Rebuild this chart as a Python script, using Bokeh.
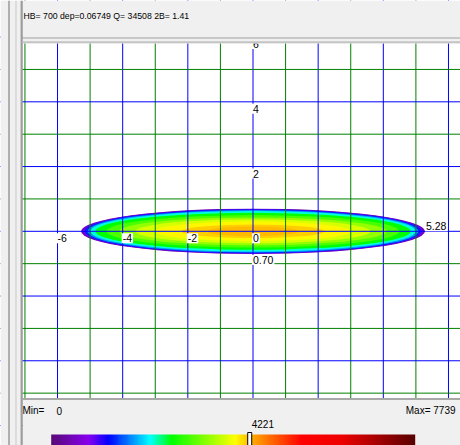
import numpy as np
from bokeh.plotting import figure
from bokeh.models import Range1d, LinearColorMapper, ColumnDataSource
from bokeh.transform import linear_cmap
from bokeh.core.properties import value
from bokeh.embed import file_html
from bokeh.resources import INLINE

# ---------------- data ----------------
header_text = "HB=  700 dep=0.06749 Q=  34508 2B=   1.41"
v_min = 0
v_max = 7739
v_peak = 4221
half_length = 5.28
half_width = 0.70

# nested contour bands of the plume: value, half-length (x), half-width (y)
level_values = [350, 900, 1300, 1750, 2150, 2550, 2950, 3350, 3700, 3950, 4120, 4221]
level_a = [5.28, 5.23, 5.16, 5.08, 4.99, 4.84, 4.50, 4.10, 3.60, 3.00, 2.20, 1.40]
level_b = [0.70, 0.69, 0.675, 0.655, 0.625, 0.57, 0.50, 0.43, 0.37, 0.30, 0.21, 0.15]

grid_x = list(range(-7, 7))
grid_y = list(range(-6, 7))
x_label_vals = [-6, -4, -2, 0]
y_label_vals = [2, 4, 6]

# ---------------- layout / style ----------------
W, H = 460, 445
X0, Y0 = 252.5, 230.8          # pixel of the data origin
SX, SY = 32.58, 32.37          # pixels per unit
CB_L, CB_W = 50.7, 364.0       # colour bar pixel start / width
FONT = value("Liberation Sans")
GRAY = "#f0f0f0"

anchors = [(0.0, "#5a0a7a"), (0.10, "#8800ee"), (0.155, "#0000ff"), (0.27, "#00ffff"),
           (0.33, "#00ff00"), (0.505, "#ffff00"), (0.56, "#ffa000"), (0.69, "#ff0000"),
           (0.80, "#ee0000"), (1.0, "#5a0000")]


def build_palette(anchors, n=256):
    ts = np.array([a[0] for a in anchors])
    cols = np.array([[int(c[1][i:i + 2], 16) for i in (1, 3, 5)] for c in anchors], float)
    out = []
    for t in np.linspace(0, 1, n):
        rgb = [np.interp(t, ts, cols[:, k]) for k in range(3)]
        out.append("#%02x%02x%02x" % tuple(int(round(c)) for c in rgb))
    return out


palette = build_palette(anchors)
mapper = LinearColorMapper(palette=palette, low=v_min, high=v_max)


def py(v):
    return H - v


p = figure(width=W, height=H,
           x_range=Range1d(-X0 / SX, (W - X0) / SX),
           y_range=Range1d(-(H - Y0) / SY, Y0 / SY),
           min_border=0, toolbar_location=None, output_backend="svg",
           x_axis_location=None, y_axis_location=None)
p.outline_line_color = None
p.grid.visible = False
p.background_fill_color = "white"
p.border_fill_color = GRAY
p.extra_x_ranges = {"px": Range1d(0, W),
                    "cb": Range1d(-CB_L / CB_W * v_max, (W - CB_L) / CB_W * v_max)}
p.extra_y_ranges = {"px": Range1d(0, H)}
PX = dict(x_range_name="px", y_range_name="px")

# plume bands
src = ColumnDataSource(dict(x=[0] * len(level_values), y=[0] * len(level_values),
                            w=[2 * a for a in level_a], h=[2 * b for b in level_b],
                            v=level_values))
p.ellipse(x="x", y="y", width="w", height="h", source=src,
          fill_color=linear_cmap("v", palette, v_min, v_max), line_color=None)

# grid lines
gcol = lambda k: "#0000ff" if k % 2 == 0 else "#008000"
p.segment(x0=grid_x, x1=grid_x, y0=[-20] * len(grid_x), y1=[20] * len(grid_x),
          line_color=[gcol(k) for k in grid_x], line_width=1)
p.segment(x0=[-20] * len(grid_y), x1=[20] * len(grid_y), y0=grid_y, y1=grid_y,
          line_color=[gcol(k) for k in grid_y], line_width=1)

lab = dict(text_font=FONT, text_font_size="10.5px", text_color="black",
           text_align="left", text_baseline="middle",
           background_fill_color="white", padding=1)
p.text(x=x_label_vals, y=[0] * len(x_label_vals), text=[str(v) for v in x_label_vals],
       x_offset=-1, y_offset=7, **lab)
p.text(x=[0] * len(y_label_vals), y=y_label_vals, text=[str(v) for v in y_label_vals],
       x_offset=-1, y_offset=7, **lab)
p.text(x=[half_length], y=[0], text=["%.2f" % half_length], x_offset=0, y_offset=-5, **lab)
p.text(x=[0], y=[-half_width], text=["%.2f" % half_width], x_offset=-1, y_offset=6, **lab)

# window chrome: panels
p.quad(left=[0, 22, 22], right=[22, W, W], bottom=[0, py(43), 0], top=[H, H, py(398)],
       fill_color=GRAY, line_color=None, **PX)
p.segment(x0=[8.5, 15.5, 20.5, 21.5], x1=[8.5, 15.5, 20.5, 21.5],
          y0=[0] * 4, y1=[H] * 4,
          line_color=["#6e6e6e", "#c8c8c8", "#a8a8a8", "#6e6e6e"], line_width=1, **PX)
p.segment(x0=[22, 22, 22], x1=[W, W, W], y0=[py(37.5), py(41.8), py(398.5)],
          y1=[py(37.5), py(41.8), py(398.5)],
          line_color=["#a0a0a0", "#c4c4c4", "#a8a8a8"], line_width=[1, 2, 2], **PX)

# header text
p.text(x=[23], y=[py(15)], text=[header_text], text_font=FONT, text_font_size="8.7px",
       text_color="black", text_align="left", text_baseline="middle", **PX)

# min / max
small = dict(text_font=FONT, text_font_size="10px", text_color="black",
             text_baseline="middle")
p.text(x=[22], y=[py(410)], text=["Min="], text_align="left", **small, **PX)
p.text(x=[56], y=[py(410)], text=[str(v_min)], text_align="left", **small, **PX)
p.text(x=[455], y=[py(410)], text=["Max= %d" % v_max], text_align="right", **small, **PX)

# colour bar
bar = np.linspace(v_min, v_max, 400).reshape(1, -1)
p.image(image=[bar], x=v_min, y=py(448), dw=v_max - v_min, dh=14, color_mapper=mapper,
        x_range_name="cb", y_range_name="px", level="glyph")
p.rect(x=[v_peak], y=[py(438.5)], width=4, height=13, width_units="screen",
       height_units="screen", fill_color="white", line_color="black", line_width=1,
       x_range_name="cb", y_range_name="px")
p.text(x=[v_peak], y=[py(423.5)], text=[str(v_peak)], text_align="left", x_offset=2,
       x_range_name="cb", y_range_name="px", **small)

open("out.html", "w").write(file_html(p, INLINE))
